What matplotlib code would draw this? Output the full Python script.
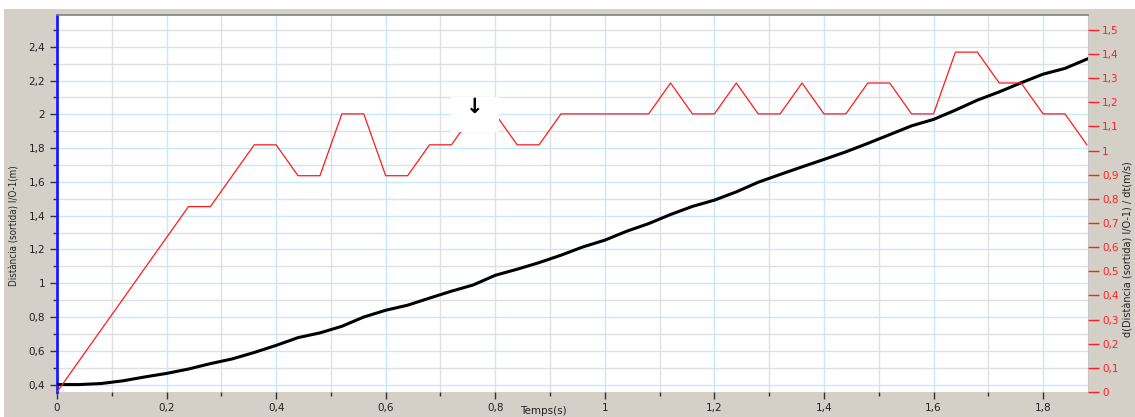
import matplotlib
matplotlib.use('Agg')
import matplotlib.pyplot as plt
from matplotlib.ticker import MultipleLocator, FuncFormatter
from matplotlib.patches import Rectangle

# temps (s)
temps = [0.00, 0.04, 0.08, 0.12, 0.16, 0.20, 0.24, 0.28, 0.32, 0.36, 0.40, 0.44,
         0.48, 0.52, 0.56, 0.60, 0.64, 0.68, 0.72, 0.76, 0.80, 0.84, 0.88, 0.92,
         0.96, 1.00, 1.04, 1.08, 1.12, 1.16, 1.20, 1.24, 1.28, 1.32, 1.36, 1.40,
         1.44, 1.48, 1.52, 1.56, 1.60, 1.64, 1.68, 1.72, 1.76, 1.80, 1.84, 1.88]

# distancia (m), eix esquerre
distancia = [0.400, 0.400, 0.406, 0.422, 0.445, 0.466, 0.492, 0.524, 0.552, 0.590,
             0.632, 0.678, 0.706, 0.745, 0.800, 0.840, 0.870, 0.912, 0.953, 0.990,
             1.047, 1.083, 1.122, 1.166, 1.215, 1.255, 1.308, 1.353, 1.407, 1.455,
             1.492, 1.541, 1.598, 1.644, 1.689, 1.733, 1.778, 1.828, 1.880, 1.932,
             1.970, 2.025, 2.084, 2.133, 2.187, 2.238, 2.272, 2.327]

# velocitat (m/s), eix dret
velocitat = [0.000, 0.128, 0.256, 0.384, 0.512, 0.640, 0.768, 0.768, 0.896, 1.024,
             1.024, 0.896, 0.896, 1.152, 1.152, 0.896, 0.896, 1.024, 1.024, 1.152,
             1.152, 1.024, 1.024, 1.152, 1.152, 1.152, 1.152, 1.152, 1.280, 1.152,
             1.152, 1.280, 1.152, 1.152, 1.280, 1.152, 1.152, 1.280, 1.280, 1.152,
             1.152, 1.408, 1.408, 1.280, 1.280, 1.152, 1.152, 1.024]

GRIS = '#d4d0c8'
BLAU = '#c8e8fa'
GRIS_GRAELLA = '#e0e0e0'


def coma(v, pos):
    return ('%g' % round(v, 3)).replace('.', ',')


fig = plt.figure(figsize=(11.35, 4.17), dpi=100, facecolor=GRIS)
# franja blanca de dalt i esquerra
fig.patches.append(Rectangle((0, 1 - 9 / 417), 1, 9 / 417, transform=fig.transFigure,
                             facecolor='white', edgecolor='none', zorder=-1))
fig.patches.append(Rectangle((0, 0), 4 / 1135, 1, transform=fig.transFigure,
                             facecolor='white', edgecolor='none', zorder=-1))

ax = fig.add_axes([57 / 1135, 25 / 417, 1031 / 1135, 377.3 / 417])
ax.set_facecolor('white')
ax.set_xlim(0, 1.882)
ax.set_ylim(0.356, 2.59)

# graella
ax.xaxis.set_major_locator(MultipleLocator(0.2))
ax.xaxis.set_minor_locator(MultipleLocator(0.1))
ax.yaxis.set_major_locator(MultipleLocator(0.2))
ax.yaxis.set_minor_locator(MultipleLocator(0.1))
ax.grid(True, which='minor', color=GRIS_GRAELLA, lw=1.0, zorder=0)
ax.grid(True, which='major', color=BLAU, lw=1.0, zorder=0)
ax.set_axisbelow(True)

ax.xaxis.set_major_formatter(FuncFormatter(coma))
ax.yaxis.set_major_formatter(FuncFormatter(coma))
ax.tick_params(axis='both', which='major', direction='out', length=5, width=1,
               color='#333333', labelsize=7.5, labelcolor='#222222')
ax.tick_params(axis='both', which='minor', direction='out', length=3, width=1,
               color='#333333')
ax.tick_params(axis='x', pad=3)

ax.spines['left'].set_color('#1a1aff')
ax.spines['left'].set_linewidth(2)
ax.spines['top'].set_color('#808080')
ax.spines['top'].set_linewidth(1.2)
ax.spines['right'].set_color('#c8c8c8')
ax.spines['bottom'].set_visible(False)

ax.plot(temps, distancia, color='black', lw=2.2, zorder=3)

ax.set_xlabel('Temps(s)', fontsize=7.5, color='#222222')
ax.xaxis.set_label_coords(0.472, -0.036)
ax.set_ylabel('Distància (sortida) I/O-1(m)', fontsize=7, color='#222222',
              fontstretch='condensed')
ax.yaxis.set_label_coords(-0.036, 0.44)

ax2 = ax.twinx()
ax2.set_ylim(0, 1.563)
ax2.yaxis.set_major_locator(MultipleLocator(0.1))
ax2.yaxis.set_major_formatter(FuncFormatter(coma))
ax2.tick_params(axis='y', direction='out', length=8, width=1, color='#ff2020',
                labelsize=7.5, labelcolor='#ff2020', pad=2)
for s in ax2.spines.values():
    s.set_visible(False)
ax2.plot(temps, velocitat, color='#ff1a1a', lw=0.9, zorder=3)
ax2.set_ylabel('d(Distància (sortida) I/O-1) / dt(m/s)', fontsize=7,
               color='#222222')
ax2.yaxis.set_label_coords(1.034, 0.38)

# cursor
ax2.add_patch(Rectangle((0.719, 1.078), 0.088, 0.146, facecolor='white',
                        edgecolor='none', zorder=5))
ax2.text(0.763, 1.18, '\u2193', fontsize=15, fontweight='bold', ha='center',
         va='center', color='black', zorder=6)

fig.savefig('out.png', dpi=100, facecolor=GRIS)
